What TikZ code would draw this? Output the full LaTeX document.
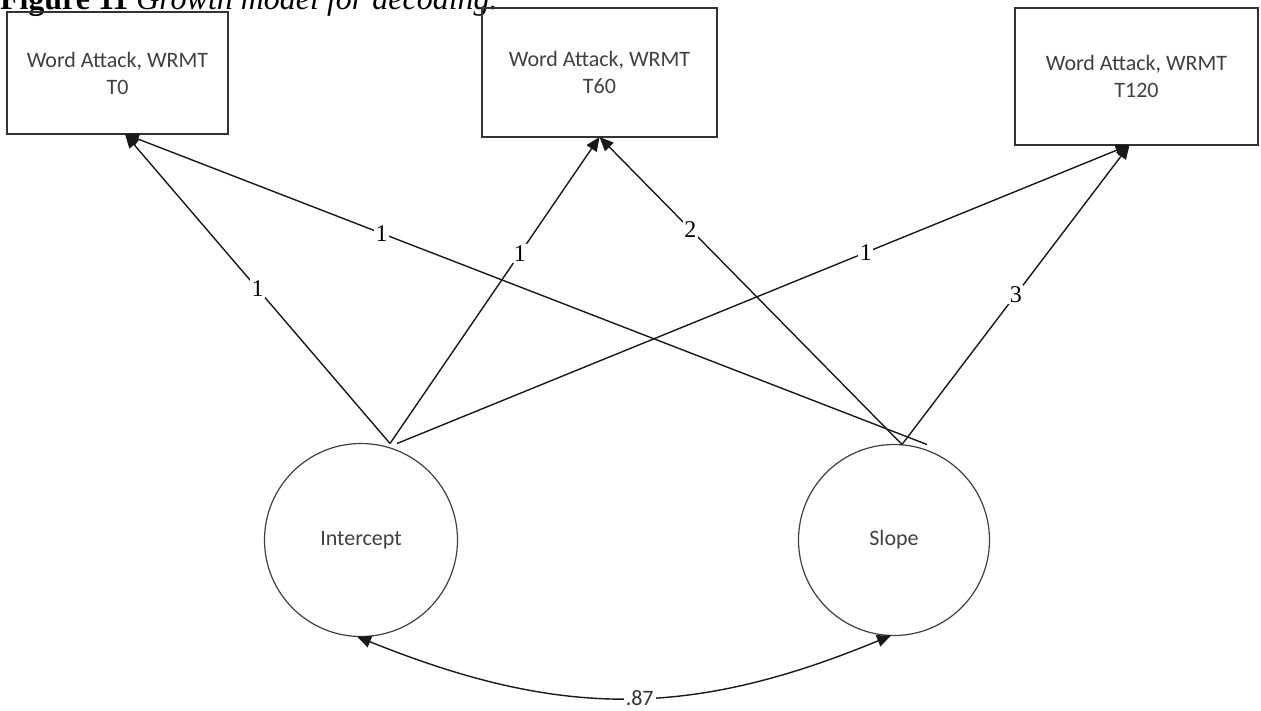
\documentclass[tikz,border=0pt]{standalone}
\usepackage{fontspec}
\setmainfont{Liberation Serif}
\newfontfamily\boxfont{Carlito}
\usetikzlibrary{arrows.meta,calc}

\begin{document}
\begin{tikzpicture}[x=1pt,y=-1pt,
  every node/.style={inner sep=0pt,outer sep=0pt},
  obsbox/.style={draw=black!80,line width=1.5pt,align=center,
    font=\boxfont\fontsize{22}{27}\selectfont,text=black!75},
  latent/.style={circle,draw=black!75,line width=1.2pt,minimum size=193pt,
    font=\boxfont\fontsize{22}{27}\selectfont,text=black!75},
  loading/.style={draw=black!90,line width=1.4pt,
    -{Triangle[length=14pt,width=12pt]}},
  covpath/.style={draw=black!90,line width=1.4pt,
    {Triangle[length=14pt,width=12pt]}-{Triangle[length=14pt,width=12pt]}},
  coef/.style={fill=white,inner sep=1.5pt,font=\fontsize{24}{24}\selectfont},
  covlabel/.style={fill=white,inner sep=2pt,
    font=\boxfont\fontsize{22}{22}\selectfont,text=black!80}]

\useasboundingbox (0,0) rectangle (1261,710);
\clip (0,0) rectangle (1261,710);

% caption, partly above the page edge
\node[anchor=base west,font=\fontsize{32}{32}\selectfont] (cap) at (0,9)
  {\textbf{Figure 11} \textit{Growth model for decoding.}};

% observed measures
\node[obsbox,minimum width=221pt,minimum height=122pt] (b0)   at (117.5,73)
  {Word Attack, WRMT\\T0};
\node[obsbox,minimum width=235pt,minimum height=129pt] (b60)  at (599.5,72.5)
  {Word Attack, WRMT\\T60};
\node[obsbox,minimum width=243pt,minimum height=137pt] (b120) at (1136.5,76.5)
  {Word Attack, WRMT\\T120};

% latent growth factors
\node[latent] (ic) at (361,540) {Intercept};
\node[latent,minimum size=191pt] (sl) at (894,540) {Slope};

% loadings
\draw[loading] ([xshift=29pt]ic.north) -- node[coef,pos=.5]{1}
  ([xshift=7.5pt]b0.south);
\draw[loading] ([xshift=29pt]ic.north) -- node[coef,pos=.62]{1}
  (b60.south);
\draw[loading] ([xshift=36pt]ic.north) -- node[coef,pos=.64]{1}
  ([xshift=-7pt]b120.south);
\draw[loading] ([xshift=33pt]sl.north) -- node[coef,pos=.68]{1}
  ([xshift=7.5pt]b0.south);
\draw[loading] ([xshift=8pt]sl.north) -- node[coef,pos=.70]{2}
  (b60.south);
\draw[loading] ([xshift=8pt]sl.north) -- node[coef,pos=.5]{3}
  ([xshift=-7pt]b120.south);

% factor covariance
\draw[covpath] ([xshift=-4pt]ic.south) .. controls +(203,82) and +(-201,83)
  .. ([xshift=-3pt]sl.south) node[covlabel,pos=.53]{.87};

\end{tikzpicture}
\end{document}
